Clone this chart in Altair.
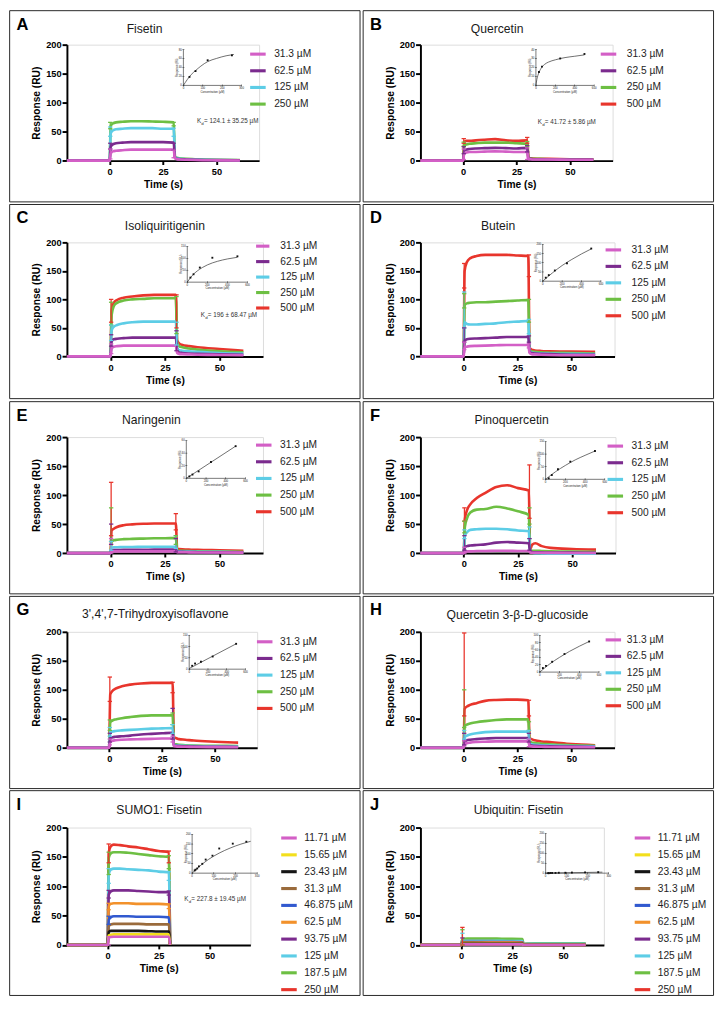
import altair as alt
import pandas as pd

S = 0.972
FONT = "Liberation Sans"
N = None

# sampling times (s) shared by every sensorgram
T = [-20, 0, 0.5, 1.5, 3, 6, 10, 15, 20, 25, 30, 30.6, 31.5, 33, 36, 40, 50, 61]

PINK, PURPLE, CYAN, GREEN, RED = "#d35fc6", "#7b2b8e", "#5dcde6", "#6dbf43", "#e8352c"
YELLOW, BLACK, BROWN, BLUE, ORANGE = "#f3df1c", "#151515", "#9a6b3c", "#3159cf", "#f2912b"

C_A = ["31.3 µM", "62.5 µM", "125 µM", "250 µM"]
C_B = ["31.3 µM", "62.5 µM", "250 µM", "500 µM"]
C_5 = ["31.3 µM", "62.5 µM", "125 µM", "250 µM", "500 µM"]
C_10 = ["11.71 µM", "15.65 µM", "23.43 µM", "31.3 µM", "46.875 µM",
        "62.5 µM", "93.75 µM", "125 µM", "187.5 µM", "250 µM"]
COL_A = [PINK, PURPLE, CYAN, GREEN]
COL_B = [PINK, PURPLE, GREEN, RED]
COL_5 = [PINK, PURPLE, CYAN, GREEN, RED]
COL_10 = [PINK, YELLOW, BLACK, BROWN, BLUE, ORANGE, PURPLE, CYAN, GREEN, RED]

# ---- responses (RU) at times T, one row per concentration ----
A_RESP = [
    [0, 0, 12, 16, 17, 18, 19, 19, 19, 19, 19, 4, 2.5, 2, 1.5, 1, 0.5, 0.3],
    [0, 0, 24, 28, 30, 31, 32, 32, 32, 32, 31, 5, 3, 2.5, 2, 1.5, 1, 0.5],
    [0, 0, 47, 52, 54, 55, 56, 56, 56, 55, 55, 6, 4, 3, 2.5, 2, 1, 0.5],
    [0, 0, 60, 64, 66, 67, 68, 68, 67.5, 67, 66, 7, 5, 4, 3, 2.5, 1.5, 1],
]
B_RESP = [
    [0, 0, 12, 14, 15, 15, 15.5, 16, 15.5, 15, 15, 3, 2.5, 2, 2, 2, 1.5, 1.5],
    [0, 0, 17, 19, 20, 21, 21.5, 22, 21.5, 21, 22, 4, 3, 2.5, 2.5, 2, 2, 2],
    [0, 0, 26, 28, 29, 30, 31, 31, 31, 30, 29, 4, 3.5, 3, 3, 2.5, 2.5, 2],
    [0, 0, 32, 34, 34, 35, 36, 37, 35, 34, 35, 5, 4, 3.5, 3, 3, 2.5, 2.5],
]
C_RESP = [
    [0, 0, 14, 17, 18, 19, 19, 19, 19, 19, 19, 6, 4.5, 4, 3.5, 3, 2.5, 2],
    [0, 0, 26, 30, 31, 32, 33, 33, 33, 33, 33, 10, 7, 6, 5, 4.5, 3.5, 3],
    [0, 0, 45, 52, 55, 58, 60, 61, 61, 61, 61, 15, 11, 10, 9, 8, 6, 5],
    [0, 0, 72, 88, 94, 98, 100, 101, 102, 102, 102, 24, 18, 16, 14, 12, 9, 7],
    [0, 0, 80, 94, 99, 103, 105, 107, 108, 108, 108, 28, 23, 20, 18, 16, 13, 10],
]
D_RESP = [
    [0, 0, 15, 17, 18, 18.5, 19, 19.5, 20, 20, 20, 6, 4, 3.5, 3, 2.5, 2, 2],
    [0, 0, 28, 30, 31, 31.5, 32, 33, 34, 34, 34, 8, 6, 5, 4.5, 4, 3, 3],
    [0, 0, 60, 57, 56, 56, 57, 58, 60, 61, 62, 9, 7, 6, 5.5, 5, 4.5, 4],
    [0, 0, 90, 93, 94, 95, 95, 96, 97, 98, 99, 11, 9, 8, 7, 6.5, 6, 5],
    [0, 0, 150, 165, 172, 176, 178, 178, 178, 177, 176, 15, 12, 10.5, 9.5, 9, 8.5, 8],
]
E_RESP = [
    [0, 0, 2.5, 3, 3, 3, 3, 3, 3, 3, 3, 1.5, 1.5, 1.5, 1.2, 1, 1, 0.8],
    [0, 0, 4.5, 5, 5, 5.5, 5.5, 5.5, 6, 6, 6, 2, 2, 2, 1.8, 1.5, 1.2, 1],
    [0, 0, 9, 10, 10, 10.5, 10.5, 11, 11, 11, 11, 3, 3, 2.8, 2.5, 2.3, 2, 1.5],
    [0, 0, 20, 22, 23, 24, 24.5, 25, 25.5, 25.5, 26, 4, 4, 3.8, 3.5, 3, 2.5, 2],
    [0, 0, 39, 42, 45, 48, 49.5, 50.5, 51, 51, 51, 7, 6.8, 6.5, 6, 5.5, 4.8, 4],
]
F_RESP = [
    [0, 0, 2, 3, 3, 3.5, 3.5, 4, 4, 3.5, 3.5, 1, 0.5, 0.5, 0.5, 0.3, 0.2, 0.2],
    [0, 0, 10, 12, 13, 14, 15, 18, 19, 18, 17, 3, 2, 1.5, 1.2, 1, 0.8, 0.5],
    [0, 0, 30, 36, 40, 41, 42, 42, 41, 39, 38, 3, 1, 0, -0.5, -1, -1, -1],
    [0, 0, 45, 60, 70, 75, 76, 80, 77, 72, 66, 5, 4, 4, 3.5, 3, 2.5, 2],
    [0, 0, 58, 74, 84, 95, 104, 114, 117, 112, 108, 6, 14, 17, 12, 9, 7, 6],
]
G_RESP = [
    [0, 0, 10, 12, 13, 14, 14.5, 15, 15.5, 16, 16, 3, 2.5, 2, 1.8, 1.5, 1.2, 1],
    [0, 0, 16, 18, 19, 20, 21, 23, 24, 25, 26, 4, 3.5, 3, 2.5, 2, 1.8, 1.5],
    [0, 0, 26, 28, 29, 30, 31, 32, 33, 33.5, 34, 5, 4.5, 4, 3.5, 3, 2.5, 2],
    [0, 0, 44, 47, 49, 51, 53, 55, 56, 56, 56, 7, 6, 5, 4.5, 4, 3.5, 3],
    [0, 0, 92, 98, 102, 106, 109, 111, 112, 112, 112, 18, 17, 15, 14, 12.5, 10.5, 9],
]
H_RESP = [
    [0, 0, 6, 8, 9, 10, 10.5, 11, 11, 11, 11, 3, 2.5, 2, 1.8, 1.5, 1.2, 1],
    [0, 0, 11, 13, 14, 15, 16, 17, 17, 17, 17, 5, 4, 3.5, 3, 2.5, 2, 1.5],
    [0, 0, 18, 21, 23, 25, 27, 28, 28, 28, 28, 8, 6, 5, 4.5, 4, 3, 2.5],
    [0, 0, 37, 40, 42, 44, 46, 48, 49, 49, 49, 12, 9, 8, 7, 6, 4.5, 3.5],
    [0, 0, 67, 71, 74, 77, 81, 82.5, 83, 83, 82, 17, 15, 13, 11, 10, 6.5, 4.5],
]
I_RESP = [
    [0, 0, 12, 13.5, 14, 14, 14, 14, 14, 14, 14, 0, N, N, N, N, N, N],
    [0, 0, 16, 17.5, 18, 18, 18, 18, 18, 18, 18, 0, N, N, N, N, N, N],
    [0, 0, 22, 24, 24, 24, 24, 24, 23.5, 23, 23, 0, N, N, N, N, N, N],
    [0, 0, 32, 35, 36, 36, 36, 36, 35, 35, 35, 0, N, N, N, N, N, N],
    [0, 0, 43, 47, 49, 49, 49, 48, 48, 48, 47, 0, N, N, N, N, N, N],
    [0, 0, 66, 70, 71, 71, 71, 70, 70, 70, 69, 0, N, N, N, N, N, N],
    [0, 0, 86, 91, 93, 93, 93, 92, 91, 90, 90, 0, N, N, N, N, N, N],
    [0, 0, 120, 128, 130, 130, 129, 128, 127, 125, 124, 0, N, N, N, N, N, N],
    [0, 0, 148, 156, 158, 158, 157, 155, 153, 151, 150, 0, N, N, N, N, N, N],
    [0, 0, 157, 168, 171, 170, 168, 166, 163, 160, 158, 0, N, N, N, N, N, N],
]
J_RESP = [
    [0, 0, 1, 1, 1, 1, 1, 1, 1, 1, 1, 0, 0, 0, 0, 0, 0, 0],
    [0, 0, 1.5, 1.5, 1.5, 1.5, 1.5, 1.5, 1.5, 1.5, 1.5, 0, 0, 0, 0, 0, 0, 0],
    [0, 0, 2, 2, 2, 2, 2, 2, 2, 2, 2, 0, 0, 0, 0, 0, 0, 0],
    [0, 0, 3, 4, 4, 4, 3.5, 3, 3, 3, 3, 0, 0, 0, 0, 0, 0, 0],
    [0, 0, 2.5, 3, 3, 3, 3, 3, 3, 3, 3, 0, 0, 0, 0, 0, 0, 0],
    [0, 0, 3, 4, 4, 4, 4, 4, 4, 4, 3.5, 0.5, 0.5, 0.5, 0.5, 0.5, 0.5, 0.5],
    [0, 0, 5, 5, 5, 5, 5, 5, 5, 5, 4.5, 0.5, 1, 1, 1, 1, 1, 1],
    [0, 0, 6, 7, 7, 7, 7, 7, 7, 6.5, 6.5, 0.5, 1.5, 2, 2, 2, 2, 2],
    [0, 0, 9, 10.5, 11, 11, 11, 11, 10.5, 10.5, 10, 1, 2, 2.5, 3, 3, 3, 3],
    [0, 0, 8, 9, 9, 9, 9, 9, 8.5, 8.5, 8, 1, 1.5, 2, 2, 2, 2, 2],
]

# ---- error bars: (time, low, high, concentration index) ----
A_ERR = [(0.3, 3, 20, 0), (0.3, 20, 30, 1), (0.3, 42, 58, 2), (0.3, 55, 66, 3),
         (30, 5, 18, 0), (30, 18, 30, 1), (30, 42, 56, 2), (30, 60, 66, 3)]
B_ERR = [(0.3, 2, 20, 0), (0.3, 12, 24, 1), (0.3, 25, 32, 2), (0.3, 30, 38, 3),
         (30, 2, 22, 0), (30, 15, 26, 1), (30, 25, 33, 2), (30, 30, 40, 3)]
C_ERR = [(0.3, 5, 22, 0), (0.3, 18, 38, 1), (0.3, 28, 55, 2), (0.3, 55, 95, 3), (0.3, 60, 100, 4),
         (30.3, 10, 45, 1), (30.3, 20, 60, 2), (30.3, 40, 105, 3), (30.3, 50, 108, 4)]
D_ERR = [(0.3, 12, 25, 0), (0.3, 25, 50, 1), (0.3, 50, 113, 2), (0.3, 85, 110, 3), (0.3, 120, 163, 4),
         (30.3, 15, 22, 0), (30.3, 25, 36, 1), (30.3, 40, 65, 2), (30.3, 60, 100, 3), (30.3, 140, 178, 4)]
E_ERR = [(0.3, 0, 25, 0), (0.3, 15, 50, 1), (0.3, 5, 20, 2), (0.3, 20, 78, 3), (0.3, 30, 122, 4),
         (30, 2, 25, 1), (30, 8, 30, 2), (30, 15, 30, 3), (30, 40, 68, 4)]
F_ERR = [(0.3, 0, 10, 0), (0.3, 5, 30, 1), (0.3, 25, 40, 2), (0.3, 35, 55, 3), (0.3, 55, 78, 4),
         (30.3, 5, 25, 1), (30.3, 25, 45, 2), (30.3, 50, 78, 3), (30.3, 60, 152, 4)]
G_ERR = [(0.3, 5, 15, 0), (0.3, 10, 25, 1), (0.3, 20, 35, 2), (0.3, 30, 48, 3), (0.3, 80, 122, 4),
         (30, 10, 20, 0), (30, 15, 68, 1), (30, 25, 40, 2), (30, 40, 60, 3), (30, 95, 113, 4)]
H_ERR = [(0.3, 3, 12, 0), (0.3, 5, 25, 1), (0.3, 15, 30, 2), (0.3, 35, 100, 3), (0.3, 55, 198, 4),
         (30.3, 2, 15, 0), (30.3, 10, 25, 1), (30.3, 15, 30, 2), (30.3, 30, 45, 3), (30.3, 55, 82, 4)]
I_ERR = [(0.5, 0, 14, 0), (0.5, 35, 49, 4), (0.5, 60, 71, 5), (0.5, 80, 93, 6), (0.5, 105, 130, 7),
         (0.5, 120, 158, 8), (0.5, 140, 172, 9), (30, 62, 70, 5), (30, 85, 92, 6), (30, 110, 125, 7),
         (30, 130, 152, 8), (30, 140, 160, 9)]
J_ERR = [(0.6, 0, 12, 6), (0.6, 0, 20, 7), (0.6, 0, 26, 8), (0.6, 0, 30, 9)]

# ---- insets: steady-state response vs concentration, with fitted curve ----
A_INS_X, A_INS_Y = [31.3, 62.5, 125, 250], [19, 32, 56, 67]
A_FIT_X, A_FIT_Y = [0, 20, 40, 62.5, 90, 125, 170, 220, 260], [0, 13, 24, 33, 43, 53, 60, 66, 69]
B_INS_X, B_INS_Y = [31.3, 62.5, 250, 500], [15, 21, 30, 35]
B_FIT_X, B_FIT_Y = [0, 10, 20, 31.3, 45, 62.5, 90, 130, 200, 300, 400, 500], [0, 7, 11, 14.5, 17.5, 20.5, 23.5, 26, 28.5, 31, 32.5, 34]
C_INS_X, C_INS_Y = [31.3, 62.5, 125, 250, 500], [19, 33, 61, 102, 108]
C_FIT_X, C_FIT_Y = [0, 50, 100, 150, 200, 300, 400, 500], [0, 28, 47, 61, 72, 87, 97, 104]
D_INS_X, D_INS_Y = [31.3, 62.5, 125, 250, 500], [19, 33, 58, 97, 177]
D_FIT_X, D_FIT_Y = [0, 100, 200, 300, 400, 500], [0, 45, 85, 118, 148, 175]
E_INS_X, E_INS_Y = [31.3, 62.5, 125, 250, 500], [3, 6, 11, 26, 51]
E_FIT_X, E_FIT_Y = [0, 500], [0, 51]
F_INS_X, F_INS_Y = [31.3, 62.5, 125, 250, 500], [4, 17, 40, 70, 112]
F_FIT_X, F_FIT_Y = [0, 100, 200, 300, 400, 500], [0, 30, 55, 77, 95, 112]
G_INS_X, G_INS_Y = [31.3, 62.5, 125, 250, 500], [15, 25, 33, 56, 112]
G_FIT_X, G_FIT_Y = [0, 500], [3, 112]
H_INS_X, H_INS_Y = [31.3, 62.5, 125, 250, 500], [11, 17, 28, 49, 83]
H_FIT_X, H_FIT_Y = [0, 100, 200, 300, 400, 500], [0, 22, 40, 56, 70, 83]
I_INS_X = [11.71, 15.65, 23.43, 31.3, 46.875, 62.5, 93.75, 125, 187.5, 250]
I_INS_Y = [14, 18, 24, 35, 48, 70, 90, 127, 152, 162]
I_FIT_X, I_FIT_Y = [0, 50, 100, 150, 200, 250, 270], [0, 50, 88, 117, 140, 158, 164]
J_INS_X = [11.71, 15.65, 23.43, 31.3, 46.875, 62.5, 93.75, 125, 187.5, 250]
J_INS_Y = [0, 0, 1, 1, 1, 2, 2, 3, 4, 5]
J_FIT_X, J_FIT_Y = [0, 270], [0, 5]

# ---- layout (reference pixels, relative to each panel box) ----
ROW_H = [197, 200, 198, 198, 211]
ROW_TOP = [35, 39, 36.5, 36.5, 38]
ROW_PH = [119.5, 117.5, 119.5, 119.5, 121]
LEFT = 59.0
SYM = 16.0  # legend line length

PANELS = [
    dict(letter="A", title="Fisetin", conc=C_A, colors=COL_A, resp=A_RESP, err=A_ERR,
         ins=(A_INS_X, A_INS_Y, A_FIT_X, A_FIT_Y, 300, 80, [0, 100, 200, 300], [0, 20, 40, 60, 80]),
         kd="= 124.1 ± 35.25 µM", pw=198, tc=139, tb=23, leg=(246, 43, 16.7, 269),
         box=(179, 239, 40, 77), kdpos=(193, 116)),
    dict(letter="B", title="Quercetin", conc=C_B, colors=COL_B, resp=B_RESP, err=B_ERR,
         ins=(B_INS_X, B_INS_Y, B_FIT_X, B_FIT_Y, 600, 40, [0, 200, 400, 600], [0, 10, 20, 30, 40]),
         kd="=  41.72 ± 5.86 µM", pw=198, tc=138, tb=23, leg=(243, 43, 16.7, 268),
         box=(178, 238, 40, 77), kdpos=(180, 117)),
    dict(letter="C", title="Isoliquiritigenin", conc=C_5, colors=COL_5, resp=C_RESP, err=C_ERR,
         ins=(C_INS_X, C_INS_Y, C_FIT_X, C_FIT_Y, 600, 150, [0, 200, 400, 600], [0, 50, 100, 150]),
         kd="= 196 ± 68.47 µM", pw=202, tc=160, tb=26, leg=(252, 41, 14.2, 275),
         box=(183, 245, 43, 80), kdpos=(197, 116)),
    dict(letter="D", title="Butein", conc=C_5, colors=COL_5, resp=D_RESP, err=D_ERR,
         ins=(D_INS_X, D_INS_Y, D_FIT_X, D_FIT_Y, 600, 200, [0, 200, 400, 600], [0, 50, 100, 150, 200]),
         kd=None, pw=200, tc=139, tb=26, leg=(248, 45, 16.5, 273),
         box=(185, 245, 41, 79), kdpos=None),
    dict(letter="E", title="Naringenin", conc=C_5, colors=COL_5, resp=E_RESP, err=E_ERR,
         ins=(E_INS_X, E_INS_Y, E_FIT_X, E_FIT_Y, 600, 60, [0, 200, 400, 600], [0, 20, 40, 60]),
         kd=None, pw=202, tc=146, tb=23, leg=(252, 43, 16.7, 275),
         box=(182, 243, 40, 79), kdpos=None),
    dict(letter="F", title="Pinoquercetin", conc=C_5, colors=COL_5, resp=F_RESP, err=F_ERR,
         ins=(F_INS_X, F_INS_Y, F_FIT_X, F_FIT_Y, 600, 150, [0, 200, 400, 600], [0, 50, 100, 150]),
         kd=None, pw=201, tc=153, tb=23, leg=(250, 44, 16.7, 273),
         box=(188, 249, 41, 80), kdpos=None),
    dict(letter="G", title="3',4',7-Trihydroxyisoflavone", conc=C_5, colors=COL_5, resp=G_RESP, err=G_ERR,
         ins=(G_INS_X, G_INS_Y, G_FIT_X, G_FIT_Y, 600, 150, [0, 200, 400, 600], [0, 50, 100, 150]),
         kd=None, pw=196, tc=150, tb=22, leg=(253, 45, 16.7, 275),
         box=(185, 243, 40, 75), kdpos=None),
    dict(letter="H", title="Quercetin 3-β-D-glucoside", conc=C_5, colors=COL_5, resp=H_RESP, err=H_ERR,
         ins=(H_INS_X, H_INS_Y, H_FIT_X, H_FIT_Y, 600, 100, [0, 200, 400, 600], [0, 20, 40, 60, 80, 100]),
         kd=None, pw=200, tc=159, tb=23, leg=(248, 43, 16.4, 268),
         box=(182, 243, 40, 78), kdpos=None),
    dict(letter="I", title="SUMO1: Fisetin", conc=C_10, colors=COL_10, resp=I_RESP, err=I_ERR,
         ins=(I_INS_X, I_INS_Y, I_FIT_X, I_FIT_Y, 300, 200, [0, 100, 200, 300], [0, 50, 100, 150, 200]),
         kd="=  227.8 ± 19.45 µM", pw=189, tc=154, tb=24, leg=(278, 47, 16.9, 300),
         box=(188, 255, 45, 85), kdpos=(180, 114)),
    dict(letter="J", title="Ubiquitin: Fisetin", conc=C_10, colors=COL_10, resp=J_RESP, err=J_ERR,
         ins=(J_INS_X, J_INS_Y, J_FIT_X, J_FIT_Y, 300, 200, [0, 100, 200, 300], [0, 50, 100, 150, 200]),
         kd=None, pw=189, tc=160, tb=24, leg=(278, 47, 16.9, 300),
         box=(188, 253, 44, 85), kdpos=None),
]

ONE = pd.DataFrame({"z": [0]})


def txt(text, x, y, size, weight="normal", align="left", color="black", angle=None, baseline="alphabetic"):
    kw = dict(text=text, font=FONT, fontSize=size, fontWeight=weight, align=align,
              color=color, baseline=baseline)
    if angle is not None:
        kw["angle"] = angle
    return alt.Chart(ONE).mark_text(**kw).encode(x=alt.value(x), y=alt.value(y))


def make_panel(p, row):
    top, ph, bh = ROW_TOP[row], ROW_PH[row], ROW_H[row]
    pw = p["pw"]
    W, H = pw * S, ph * S

    def px(v):
        return (v - LEFT) * S

    def py(v):
        return (v - top) * S

    conc, colors = p["conc"], p["colors"]
    recs = []
    for i in range(len(conc) - 1, -1, -1):
        for t, v in zip(T, p["resp"][i]):
            recs.append({"t": t, "v": v, "c": conc[i]})
    df = pd.DataFrame(recs)

    lx, ly, sp, lt = p["leg"]
    sym = min(SYM, sp - 0.5)
    legend = alt.Legend(orient="none", legendX=px(lx), legendY=py(ly) - sym * S / 2, title=None,
                        symbolType="stroke", symbolSize=(sym * S) ** 2, symbolStrokeWidth=3.2 * S,
                        labelFont=FONT, labelFontSize=10.5 * S, labelColor="#1e1e1e",
                        labelOffset=(lt - lx - sym) * S, rowPadding=(sp - sym) * S, padding=0,
                        direction="vertical", symbolOpacity=1)
    col = alt.Color("c:N", scale=alt.Scale(domain=conc, range=colors), legend=legend)

    xs = alt.Scale(domain=[-20, 70], nice=False, zero=False)
    ys = alt.Scale(domain=[0, 200], nice=False, zero=False)
    xax = alt.Axis(values=[0, 25, 50], grid=False, domainColor="black", domainWidth=2 * S,
                   tickColor="black", tickWidth=2 * S, tickSize=4 * S, labelFont=FONT,
                   labelFontSize=9.5 * S, labelFontWeight="bold", labelColor="black",
                   labelPadding=3 * S, titleFont=FONT, titleFontSize=10.5 * S, titleFontWeight="bold",
                   titleColor="black", titlePadding=3 * S, labelOverlap=False, title="Time (s)")
    yax = alt.Axis(values=[0, 50, 100, 150, 200], grid=False, domainColor="black", domainWidth=2 * S,
                   tickColor="black", tickWidth=2 * S, tickSize=5 * S, labelFont=FONT,
                   labelFontSize=9.5 * S, labelFontWeight="bold", labelColor="black",
                   labelPadding=1 * S, titleFont=FONT, titleFontSize=10.5 * S, titleFontWeight="bold",
                   titleColor="black", titlePadding=4 * S, labelOverlap=False, title="Response (RU)")

    lines = alt.Chart(df).mark_line(strokeWidth=2.7 * S, interpolate="monotone").encode(
        x=alt.X("t:Q", scale=xs, axis=xax),
        y=alt.Y("v:Q", scale=ys, axis=yax),
        color=col)

    err = p["err"]
    edf = pd.DataFrame({"t": [e[0] for e in err], "lo": [e[1] for e in err],
                        "hi": [e[2] for e in err], "c": [conc[e[3]] for e in err]})
    cdf = pd.DataFrame({"t": [e[0] for e in err] * 2,
                        "v": [e[1] for e in err] + [e[2] for e in err],
                        "c": [conc[e[3]] for e in err] * 2})
    ebar = alt.Chart(edf).mark_rule(strokeWidth=1.3 * S).encode(
        x=alt.X("t:Q", scale=xs, axis=xax), y=alt.Y("lo:Q", scale=ys, axis=yax), y2="hi:Q", color=col)
    caps = alt.Chart(cdf).mark_tick(orient="horizontal", size=4.5 * S, thickness=1.3 * S, opacity=1).encode(
        x=alt.X("t:Q", scale=xs, axis=xax), y=alt.Y("v:Q", scale=ys, axis=yax), color=col)

    border = alt.Chart(ONE).mark_rect(filled=False, stroke="#2a2a2a", strokeWidth=1.0).encode(
        x=alt.value(px(0)), x2=alt.value(px(361)), y=alt.value(py(0)), y2=alt.value(py(bh)))

    deco = [border, lines, ebar, caps,
            txt(p["letter"], px(7), py(19.5), 17 * S, weight="bold"),
            txt(p["title"], px(p["tc"]), py(p["tb"]), 12.5 * S, align="center", color="#1a1a1a")]

    if p["kd"]:
        kx, ky = p["kdpos"]
        deco += [txt("K", px(kx), py(ky), 6.5 * S, color="#333"),
                 txt("d", px(kx) + 4.4 * S, py(ky) + 1.6 * S, 4.5 * S, color="#333"),
                 txt(p["kd"], px(kx) + 7.2 * S, py(ky), 6.5 * S, color="#333")]

    # inset geometry
    bx0, bx1, by0, by1 = p["box"]
    a0, a1, b0, b1 = px(bx0), px(bx1), py(by0), py(by1)
    ix, iy, fx, fy, xmax, ymax, xt, yt = p["ins"]
    xlo = -a0 / (a1 - a0) * xmax
    xhi = xmax + (W - a1) / (a1 - a0) * xmax
    span = ymax * H / (b1 - b0)
    ylo = -(H - b1) / H * span
    yhi = ylo + span
    isx = alt.Scale(domain=[xlo, xhi], nice=False, zero=False)
    isy = alt.Scale(domain=[ylo, yhi], nice=False, zero=False)

    def X(f):
        return alt.X(f, scale=isx, axis=None)

    def Y(f):
        return alt.Y(f, scale=isy, axis=None)

    ink = "#222"
    axdf = pd.DataFrame({"x": [0, 0], "y": [0, 0], "x2": [xmax, 0], "y2": [0, ymax]})
    iax = alt.Chart(axdf).mark_rule(color=ink, strokeWidth=0.6).encode(
        x=X("x:Q"), y=Y("y:Q"), x2="x2:Q", y2="y2:Q")
    xtdf = pd.DataFrame({"x": xt, "y": [0] * len(xt), "l": [str(v) for v in xt]})
    ytdf = pd.DataFrame({"x": [0] * len(yt), "y": yt, "l": [str(v) for v in yt]})
    ixt = alt.Chart(xtdf).mark_tick(orient="vertical", size=2, thickness=0.5, color=ink, opacity=1).encode(
        x=X("x:Q"), y=Y("y:Q"))
    ixl = alt.Chart(xtdf).mark_text(fontSize=2.8, font=FONT, color=ink, baseline="top", dy=1.6).encode(
        x=X("x:Q"), y=Y("y:Q"), text="l:N")
    iyt = alt.Chart(ytdf).mark_tick(orient="horizontal", size=2, thickness=0.5, color=ink, opacity=1).encode(
        x=X("x:Q"), y=Y("y:Q"))
    iyl = alt.Chart(ytdf).mark_text(fontSize=2.8, font=FONT, color=ink, align="right", baseline="middle",
                                    dx=-1.6).encode(x=X("x:Q"), y=Y("y:Q"), text="l:N")
    fdf = pd.DataFrame({"x": fx, "y": fy})
    ifit = alt.Chart(fdf).mark_line(color="#333", strokeWidth=0.7, interpolate="monotone").encode(
        x=X("x:Q"), y=Y("y:Q"))
    pdf = pd.DataFrame({"x": ix, "y": iy})
    ipts = alt.Chart(pdf).mark_point(shape="square", filled=True, size=3.5, color="#111", opacity=1).encode(
        x=X("x:Q"), y=Y("y:Q"))

    deco += [txt("Concentration (µM)", (a0 + a1) / 2, b1 + 7.5 * S, 2.8, align="center", color=ink),
             txt("Response (RU)", a0 - 6.5 * S, (b0 + b1) / 2, 2.8, align="center", color=ink,
                 angle=270, baseline="middle")]

    main = alt.layer(*deco)
    inset = alt.layer(iax, ixt, ixl, iyt, iyl, ifit, ipts)
    return alt.layer(main, inset).resolve_scale(x="independent", y="independent").properties(
        width=W, height=H)


panels = [make_panel(p, i // 2) for i, p in enumerate(PANELS)]
rows = [alt.hconcat(panels[2 * r], panels[2 * r + 1], spacing=0).resolve_scale(color="independent")
        for r in range(5)]
chart = (alt.vconcat(*rows, spacing=0)
         .resolve_scale(color="independent")
         .properties(padding=0, background="white")
         .configure_view(stroke=None)
         .configure_axis(labelOverlap=False)
         .configure(font=FONT))

chart.save("out.html", embed_options={"renderer": "svg", "actions": False})
